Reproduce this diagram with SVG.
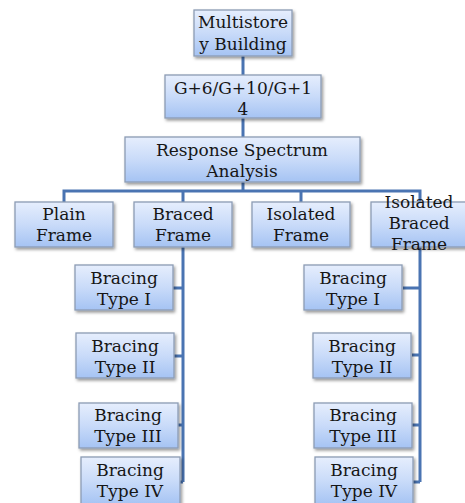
<svg xmlns="http://www.w3.org/2000/svg" width="465" height="503" viewBox="0 0 465 503">
<defs>
<linearGradient id="g" x1="0" y1="0" x2="0" y2="1">
<stop offset="0" stop-color="#e6eefd"/>
<stop offset="0.5" stop-color="#c9dbf9"/>
<stop offset="1" stop-color="#a5c3f3"/>
</linearGradient>
<filter id="sh" x="-10%" y="-10%" width="130%" height="140%">
<feDropShadow dx="1.5" dy="2" stdDeviation="1.5" flood-color="#000" flood-opacity="0.4"/>
</filter>
</defs>
<style>
.box{fill:url(#g);stroke:#8c9cb4;stroke-width:1.3;filter:url(#sh)}
.t{font-family:'DejaVu Serif','Liberation Serif',serif;font-size:17px;fill:#161616;text-anchor:middle}
.c{fill:none;stroke:#4a74b2;stroke-width:3}
</style>
<rect width="465" height="503" fill="#fff"/>
<g id="connectors">
<path class="c" d="M243 56V75M243 118V137M243 182V191M64 202V191H420V202M183 191V202M301 191V202"/>
<path class="c" d="M183 246V482M173 288H183M174 356H183M178 425H183M180 482H183"/>
<path class="c" d="M420 246V482M403 288H420M412 355H420M412 425H420M413 482H420"/>
</g>
<g id="n-multistorey"><rect class="box" x="194" y="10" width="98" height="46"/><text class="t" x="243" y="28">Multistore</text><text class="t" x="243" y="50">y Building</text></g>
<g id="n-storeys"><rect class="box" x="165" y="75" width="156" height="43"/><text class="t" x="243" y="94">G+6/G+10/G+1</text><text class="t" x="243" y="115">4</text></g>
<g id="n-rsa"><rect class="box" x="125" y="137" width="235" height="45"/><text class="t" x="242" y="156">Response Spectrum</text><text class="t" x="242" y="177">Analysis</text></g>
<g id="n-plain"><rect class="box" x="15" y="202" width="98" height="45"/><text class="t" x="64" y="220">Plain</text><text class="t" x="64" y="241">Frame</text></g>
<g id="n-braced"><rect class="box" x="134" y="202" width="98" height="45"/><text class="t" x="183" y="220">Braced</text><text class="t" x="183" y="241">Frame</text></g>
<g id="n-isolated"><rect class="box" x="252" y="202" width="98" height="45"/><text class="t" x="301" y="220">Isolated</text><text class="t" x="301" y="241">Frame</text></g>
<g id="n-isobraced"><rect class="box" x="371" y="202" width="96" height="45"/><text class="t" x="419" y="208">Isolated</text><text class="t" x="419" y="229">Braced</text><text class="t" x="419" y="250">Frame</text></g>
<g id="n-l1"><rect class="box" x="75" y="265" width="98" height="45"/><text class="t" x="124" y="284">Bracing</text><text class="t" x="124" y="305">Type I</text></g>
<g id="n-l2"><rect class="box" x="76" y="333" width="98" height="45"/><text class="t" x="125" y="352">Bracing</text><text class="t" x="125" y="373">Type II</text></g>
<g id="n-l3"><rect class="box" x="79" y="403" width="99" height="45"/><text class="t" x="128" y="421">Bracing</text><text class="t" x="128" y="442">Type III</text></g>
<g id="n-l4"><rect class="box" x="81" y="457" width="99" height="48"/><text class="t" x="130" y="476">Bracing</text><text class="t" x="130" y="497">Type IV</text></g>
<g id="n-r1"><rect class="box" x="304" y="265" width="98" height="45"/><text class="t" x="353" y="284">Bracing</text><text class="t" x="353" y="305">Type I</text></g>
<g id="n-r2"><rect class="box" x="313" y="333" width="98" height="45"/><text class="t" x="362" y="352">Bracing</text><text class="t" x="362" y="373">Type II</text></g>
<g id="n-r3"><rect class="box" x="314" y="403" width="98" height="45"/><text class="t" x="363" y="421">Bracing</text><text class="t" x="363" y="442">Type III</text></g>
<g id="n-r4"><rect class="box" x="315" y="457" width="98" height="48"/><text class="t" x="364" y="476">Bracing</text><text class="t" x="364" y="497">Type IV</text></g>
</svg>
